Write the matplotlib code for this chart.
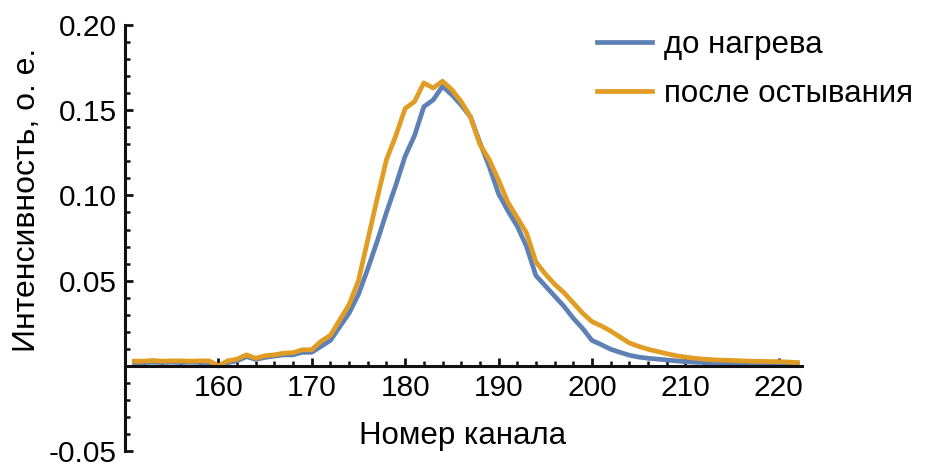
import matplotlib
matplotlib.use('Agg')
import matplotlib.pyplot as plt
from matplotlib.ticker import MultipleLocator, FixedLocator

plt.rcParams['font.family'] = ['Liberation Sans', 'DejaVu Sans']

channels = list(range(151, 223))

before = [
    0.002, 0.002, 0.0022, 0.002, 0.0022, 0.002, 0.0022, 0.002, 0.002,        # 151-159
    0.0, 0.002, 0.003, 0.0055, 0.0038, 0.005, 0.0058, 0.0065, 0.0065, 0.008,  # 160-169
    0.008, 0.0115, 0.015, 0.023, 0.031, 0.042, 0.057, 0.073, 0.090, 0.106,    # 170-179
    0.123, 0.135, 0.152, 0.156, 0.164, 0.159, 0.153, 0.146, 0.131, 0.117,     # 180-189
    0.101, 0.091, 0.082, 0.070, 0.053, 0.047, 0.041, 0.035, 0.028, 0.022,     # 190-199
    0.015, 0.0125, 0.0098, 0.008, 0.0063, 0.0052, 0.0045, 0.004, 0.0035, 0.003,  # 200-209
    0.0025, 0.0022, 0.002, 0.0018, 0.0016, 0.0015, 0.0014, 0.0013, 0.0012, 0.0012,  # 210-219
    0.0011, 0.001, 0.001,                                                      # 220-222
]

after = [
    0.0028, 0.0028, 0.0032, 0.0028, 0.003, 0.003, 0.0028, 0.003, 0.003,      # 151-159
    0.0, 0.003, 0.004, 0.0065, 0.0045, 0.006, 0.0065, 0.0075, 0.0078, 0.0095,  # 160-169
    0.0095, 0.0145, 0.018, 0.027, 0.036, 0.050, 0.074, 0.098, 0.121, 0.135,   # 170-179
    0.151, 0.155, 0.166, 0.163, 0.167, 0.162, 0.155, 0.146, 0.130, 0.121,     # 180-189
    0.109, 0.096, 0.087, 0.078, 0.061, 0.054, 0.048, 0.043, 0.037, 0.031,     # 190-199
    0.026, 0.0235, 0.0205, 0.017, 0.0135, 0.0115, 0.0098, 0.0085, 0.0072, 0.006,  # 200-209
    0.0052, 0.0045, 0.004, 0.0036, 0.0034, 0.0032, 0.003, 0.0028, 0.0027, 0.0026,  # 210-219
    0.0025, 0.0023, 0.002,                                                     # 220-222
]

labels = ['до нагрева', 'после остывания']
colors = ['#5E81B5', '#E19C24']

x_ticks = [160, 170, 180, 190, 200, 210, 220]
y_ticks = [-0.05, 0.05, 0.10, 0.15, 0.20]
y_tick_labels = ['-0.05', '0.05', '0.10', '0.15', '0.20']

fig = plt.figure(figsize=(9.3, 4.7), dpi=100)
ax = fig.add_axes([0.1344, 0.040, 0.728, 0.907])

ax.plot(channels, before, color=colors[0], lw=3.4, label=labels[0])
ax.plot(channels, after, color=colors[1], lw=3.4, label=labels[1])

ax.set_xlim(150, 222.5)
ax.set_ylim(-0.05, 0.20)

for side in ['top', 'right']:
    ax.spines[side].set_visible(False)
ax.spines['left'].set_position(('data', 150))
ax.spines['bottom'].set_position(('data', 0))
for side in ['left', 'bottom']:
    ax.spines[side].set_linewidth(2.2)
    ax.spines[side].set_color('#111111')

ax.xaxis.set_major_locator(FixedLocator(x_ticks))
ax.xaxis.set_minor_locator(MultipleLocator(2))
ax.set_yticks(y_ticks)
ax.set_yticklabels(y_tick_labels)
ax.yaxis.set_minor_locator(MultipleLocator(0.01))

ax.tick_params(which='major', direction='in', length=6, width=2.0, color='#111111',
               labelsize=21.5, pad=6)
ax.tick_params(which='minor', direction='in', length=3.3, width=1.8, color='#111111')

fig.text(463 / 930, 34 / 470, 'Номер канала', ha='center', va='center', fontsize=22.5)
fig.text(27 / 930, 270 / 470, 'Интенсивность, о. е.', ha='center', va='center',
         rotation=90, fontsize=23)

ax.legend(loc='upper left', bbox_to_anchor=(597 / 930, 1 - 30 / 470),
          bbox_transform=fig.transFigure, frameon=False, fontsize=22.5,
          handlelength=1.75, handletextpad=0.4, labelspacing=0.6, borderpad=0,
          borderaxespad=0)

fig.savefig('out.png', dpi=100)
